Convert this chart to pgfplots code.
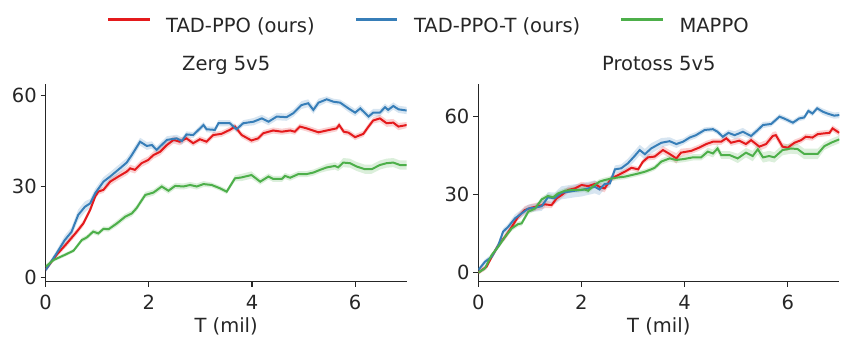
\documentclass[border=0pt]{standalone}
\usepackage{pgfplots}
\pgfplotsset{compat=1.18}
\usepackage{pgfplotstable}
\usepgfplotslibrary{fillbetween}
\usepackage{fontspec}
\setmainfont{DejaVu Sans}
\definecolor{cred}{HTML}{E41A1C}
\definecolor{cblue}{HTML}{377EB8}
\definecolor{cgreen}{HTML}{4DAF4A}
\definecolor{textgray}{HTML}{262626}
\definecolor{axisgray}{HTML}{262626}

\pgfplotstableread{
x y e
0 2.4 0.8
0.21 7.9 1.0
0.37 12.3 1.5
0.5 15 1.5
0.63 20.6 1.8
0.76 23.3 1.8
0.86 24.4 1.5
0.96 27.8 1.5
1.12 31.6 1.5
1.25 33.3 1.5
1.44 36 1.5
1.57 37.9 1.5
1.67 40.4 1.5
1.83 44.8 1.3
1.96 43.4 1.3
2.06 43.7 1.2
2.15 42.1 1.2
2.35 45.4 1.2
2.54 45.9 1.2
2.64 45 1.2
2.73 47.2 1.0
2.86 47 1.0
3.06 50.3 1.0
3.12 48.9 1.0
3.28 48.7 1.0
3.35 50.9 1.0
3.57 50.9 1.0
3.7 48.9 1.0
3.83 50.9 1.0
4.03 51.4 1.2
4.19 52.5 1.2
4.32 51.4 1.2
4.48 53.1 1.2
4.67 52.9 1.2
4.8 54.2 1.2
4.96 56.9 1.3
5.09 57.5 1.3
5.19 55.3 1.3
5.29 57.7 1.3
5.45 58.8 1.0
5.58 58 1.0
5.71 57.7 1.0
5.87 55.8 1.2
6.0 54.4 1.2
6.1 55.8 1.2
6.26 53.1 1.2
6.35 54.4 1.2
6.48 54.4 1.2
6.58 56.2 1.2
6.64 55.3 1.2
6.74 56.6 1.2
6.84 55.5 1.2
7.0 55.1 1.2
}\zergBlue

\pgfplotstableread{
x y e
0 2.6 0.8
0.21 7.4 0.8
0.41 11.2 1.0
0.6 15 1.0
0.73 17.8 1.0
0.86 22.2 1.0
0.96 26.7 1.0
1.02 28.3 1.0
1.12 28.9 1.0
1.25 31.6 1.2
1.41 33.3 1.2
1.57 34.9 1.2
1.64 36 1.2
1.73 35.5 1.2
1.86 37.7 1.2
1.99 38.8 1.2
2.09 40.4 1.2
2.22 41.5 1.2
2.35 43.7 1.2
2.48 45.4 1.2
2.6 44.8 1.2
2.73 45.9 1.0
2.86 44.3 1.0
2.99 45.6 1.0
3.12 44.8 1.0
3.25 47 1.0
3.41 47.4 1.0
3.57 48.7 1.0
3.67 49.8 1.0
3.8 47 1.0
3.99 45.2 1.0
4.12 45.9 1.0
4.22 47.6 1.0
4.41 48.5 1.0
4.58 48.1 1.0
4.74 48.5 1.0
4.83 48.1 1.0
4.93 49.8 1.0
5.06 49.2 1.0
5.29 47.9 1.0
5.45 48.5 1.0
5.64 49.2 1.0
5.69 50.3 1.0
5.78 48.1 1.0
5.87 47.8 1.0
6.0 46.3 1.0
6.16 47.4 1.0
6.26 49.8 1.0
6.35 51.8 1.0
6.48 52.5 1.2
6.61 50.9 1.2
6.74 51.1 1.2
6.84 49.8 1.2
7.0 50.3 1.0
}\zergRed

\pgfplotstableread{
x y e
0 3.5 0.8
0.15 5.7 0.6
0.37 7.4 0.6
0.54 8.8 0.6
0.7 12.3 0.8
0.8 13.2 0.8
0.92 15.1 0.8
1.02 14.5 0.8
1.12 16 0.8
1.22 15.9 0.8
1.38 17.8 1.0
1.54 20 1.0
1.67 21.1 1.0
1.76 22.8 1.0
1.93 27.2 1.0
2.09 28 1.0
2.25 30 1.0
2.38 28.6 1.0
2.51 30.2 1.0
2.67 30 1.0
2.8 30.5 1.0
2.93 30 1.0
3.06 30.8 1.0
3.22 30.5 0.8
3.38 29.4 0.8
3.51 28.3 0.8
3.67 32.7 1.0
3.8 33 1.2
3.99 33.8 1.2
4.16 31.6 1.0
4.32 33.3 1.0
4.41 32.5 1.0
4.58 32.5 1.0
4.64 33.5 1.0
4.74 32.9 1.0
4.9 34.1 1.0
5.06 34.1 1.0
5.19 34.6 1.0
5.32 35.5 1.0
5.45 36.3 1.2
5.61 36.8 1.2
5.67 36.3 1.2
5.77 37.9 1.5
5.9 37.7 1.5
6.03 36.6 1.5
6.19 35.7 1.5
6.32 35.7 1.5
6.48 37.1 1.5
6.61 37.7 1.5
6.74 37.9 1.5
6.87 37.1 1.5
7.0 37.1 1.5
}\zergGreen

\pgfplotstableread{
x y e
0 1 0.8
0.13 4.2 1.0
0.26 6.1 1.0
0.39 10.6 1.2
0.48 15.7 1.2
0.58 17.6 1.2
0.71 20.8 1.5
0.84 22.7 1.5
0.97 24.6 1.5
1.1 24.9 1.5
1.23 25.5 1.8
1.35 28.9 2.0
1.48 28.5 2.2
1.61 30.6 2.5
1.74 31 2.5
1.87 31.4 2.5
2.0 31.7 2.5
2.13 32.3 2.5
2.26 32.9 2.5
2.35 31.9 2.2
2.45 34 1.8
2.55 34.2 1.5
2.65 39.6 1.5
2.77 40 1.5
2.9 41.9 1.8
3.03 44.7 2.0
3.13 47 2.0
3.23 45.4 2.0
3.35 47.6 2.0
3.55 49.8 1.8
3.71 50.4 1.5
3.84 49.3 1.5
3.97 50.2 1.2
4.1 51.8 1.2
4.22 52.7 1.2
4.39 54.7 1.0
4.55 55 1.0
4.64 54 1.0
4.74 52.1 1.2
4.85 53.6 1.2
4.97 52.7 1.5
5.13 54 1.5
5.29 52.4 1.2
5.42 54.7 1.2
5.52 56.6 1.2
5.68 57 1.0
5.84 59.8 1.0
5.93 59.1 1.0
6.1 57.5 1.0
6.22 59.1 1.0
6.32 59.5 1.0
6.4 62 1.0
6.48 61 1.0
6.57 63 1.0
6.68 61.7 1.2
6.77 61 1.2
6.9 60.2 1.2
7.0 60.4 1.2
}\protBlue

\pgfplotstableread{
x y e
0 0 0.8
0.16 2.3 1.0
0.26 6.1 1.0
0.39 10.6 1.0
0.52 13.8 1.2
0.65 17.6 1.2
0.77 21.4 1.2
0.9 24 1.5
1.03 24.9 1.5
1.16 25.5 1.5
1.29 26.2 1.5
1.42 25.9 1.2
1.52 28.5 1.2
1.61 29.7 1.2
1.74 31.7 1.2
1.87 32.3 1.2
2.0 33.6 1.2
2.13 33.2 1.2
2.26 34 1.2
2.35 32.9 1.5
2.45 32.3 1.5
2.58 36.1 1.2
2.71 37.4 1.0
2.84 38.7 1.0
2.97 40.2 1.0
3.1 39.6 1.0
3.19 42.5 1.0
3.29 44.2 1.2
3.42 44.5 1.2
3.58 47 1.5
3.71 45.5 1.5
3.84 43.8 2.0
3.93 46 1.5
4.13 46.7 1.2
4.29 48 1.2
4.42 49.3 1.2
4.55 50.2 1.2
4.71 50.2 1.2
4.81 51.5 1.2
4.9 49.8 1.2
5.06 50.6 1.2
5.19 49.3 1.2
5.29 50.8 1.2
5.45 48.3 1.5
5.58 49.3 1.5
5.71 52.4 1.5
5.77 52.7 1.5
5.9 48.3 1.5
6.0 47.9 1.2
6.13 49.8 1.2
6.26 50.8 1.2
6.35 52.1 1.2
6.48 51.8 1.2
6.58 53.1 1.2
6.71 53.4 1.2
6.81 53.6 1.2
6.87 55.3 1.2
7.0 53.6 1.2
}\protRed

\pgfplotstableread{
x y e
0 0 0.6
0.13 1.7 0.8
0.26 6.8 0.8
0.39 10 0.8
0.52 13.8 1.0
0.65 17 1.0
0.77 18.6 1.0
0.84 18.9 1.0
0.97 23.4 1.0
1.1 24.6 1.0
1.23 28.1 1.0
1.35 29.4 1.0
1.45 28.9 1.0
1.55 30.4 1.0
1.68 31.4 1.0
1.81 31.7 1.0
1.94 31.7 1.0
2.06 31.9 1.0
2.13 31.4 1.0
2.23 33.2 1.0
2.35 34.9 1.0
2.45 35.5 1.0
2.58 36.1 1.0
2.71 36.5 1.0
2.84 36.8 1.0
2.97 37.4 1.0
3.1 38 1.0
3.23 38.7 1.0
3.35 39.6 1.0
3.42 40.2 1.0
3.55 42.6 1.2
3.71 43.8 1.2
3.84 43.2 1.2
4.0 43.6 1.2
4.16 44.2 1.2
4.32 44.2 1.2
4.45 46.4 1.5
4.55 45.7 1.5
4.64 47.6 1.5
4.71 45.1 1.5
4.87 45.1 1.5
5.03 43.8 1.8
5.19 46 1.8
5.32 44.7 2.0
5.42 47.3 2.0
5.52 44.2 2.0
5.64 44.7 2.0
5.74 44.2 2.0
5.9 47 2.0
6.06 47.6 2.0
6.19 47.4 2.0
6.32 45.5 2.0
6.45 45.5 2.0
6.58 45.5 2.0
6.71 48.5 1.5
6.84 49.8 1.5
7.0 51.1 1.5
}\protGreen

\newcommand{\bigfont}{\fontsize{19.5bp}{23bp}\selectfont}

% #1 table, #2 colour, #3 unique name
\newcommand{\series}[3]{%
  \addplot[draw=none, name path=#3up, forget plot] table[x=x, y expr=\thisrow{y}+\thisrow{e}] {#1};
  \addplot[draw=none, name path=#3lo, forget plot] table[x=x, y expr=\thisrow{y}-\thisrow{e}] {#1};
  \addplot[fill=#2, fill opacity=0.2, draw=none, forget plot] fill between[of=#3up and #3lo];
  \addplot[color=#2, line width=2bp] table[x=x, y=y] {#1};
}

\pgfplotsset{
  panel/.style={
    scale only axis, width=361bp, height=197.4bp,
    anchor=south west,
    axis x line*=bottom, axis y line*=left,
    axis line style={line width=1.25bp, color=axisgray, -},
    xmin=0, xmax=7, xtick={0,2,4,6}, ytick={0,30,60},
    tick align=outside, major tick length=5bp,
    every tick/.style={line width=1.25bp, color=axisgray},
    /pgf/number format/assume math mode=true,
    tick label style={font=\bigfont, text=textgray},
    xticklabel style={inner ysep=8bp},
    yticklabel style={inner xsep=3.7bp},
    label style={font=\bigfont, text=textgray},
    title style={font=\bigfont, text=textgray, anchor=base, at={(0.5,1)}, yshift=8bp},
    xlabel style={at={(axis description cs:0.5,0)}, anchor=base, yshift=-50.8bp},
    xlabel={T (mil)},
  }
}

\begin{document}
\begin{tikzpicture}
\path (0,0) rectangle (850bp,347bp);
\begin{axis}[panel, at={(45.7bp,65.3bp)},
  ymin=-1.45, ymax=63.76,
  title={Zerg 5v5},
  legend columns=3,
  legend image code/.code={\draw[#1, line width=2.2bp] (0bp,6.5bp) -- (41.6bp,6.5bp);},
  legend style={at={(0.169,1.2953)}, anchor=west, draw=none, fill=none,
    inner sep=0pt, font=\bigfont, text=textgray,
    nodes={inner sep=0pt},
    /tikz/every odd column/.append style={column sep=15.5bp},
    /tikz/every even column/.append style={column sep=40bp}},
]
\series{\zergRed}{cred}{a}
\addlegendentry{TAD-PPO (ours)}
\series{\zergBlue}{cblue}{b}
\addlegendentry{TAD-PPO-T (ours)}
\series{\zergGreen}{cgreen}{c}
\addlegendentry{MAPPO}
\end{axis}
\begin{axis}[panel, at={(478.3bp,65.3bp)},
  ymin=-3.45, ymax=72.2,
  title={Protoss 5v5},
]
\series{\protRed}{cred}{d}
\series{\protBlue}{cblue}{e}
\series{\protGreen}{cgreen}{f}
\end{axis}
\end{tikzpicture}
\end{document}
